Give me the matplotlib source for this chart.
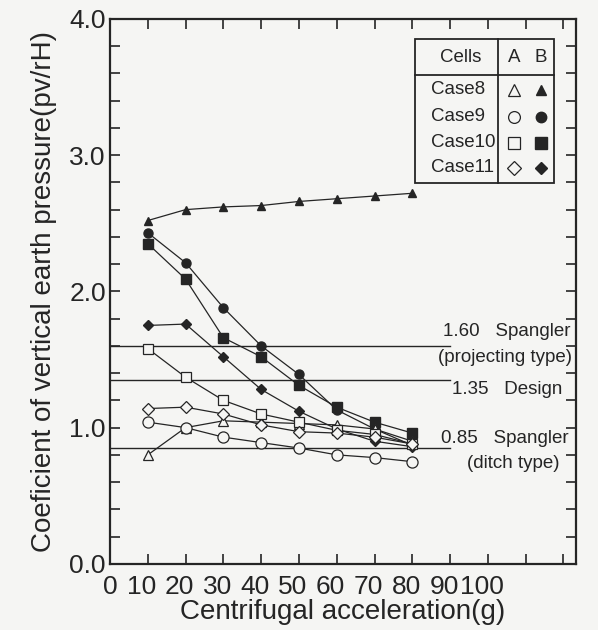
import matplotlib
matplotlib.use("Agg")
import matplotlib.pyplot as plt
import matplotlib.transforms as mtransforms
import numpy as np

plt.rcParams["font.family"] = ["Liberation Sans", "DejaVu Sans"]

# centrifugal acceleration (g)
accel = [10, 20, 30, 40, 50, 60, 70, 80]

# cell A (open markers) and cell B (filled markers) for each case
case8_a = [0.80, 1.00, 1.05, 1.04, 1.03, 1.02, 0.99, 0.90]
case8_b = [2.52, 2.60, 2.62, 2.63, 2.66, 2.68, 2.70, 2.72]
case9_a = [1.04, 1.00, 0.93, 0.89, 0.85, 0.80, 0.78, 0.75]
case9_b = [2.43, 2.21, 1.88, 1.60, 1.39, 1.13, 0.99, 0.87]
case10_a = [1.58, 1.37, 1.20, 1.10, 1.04, 0.98, 0.95, 0.88]
case10_b = [2.35, 2.09, 1.66, 1.52, 1.31, 1.15, 1.04, 0.96]
case11_a = [1.14, 1.15, 1.10, 1.02, 0.97, 0.96, 0.93, 0.88]
case11_b = [1.75, 1.76, 1.52, 1.28, 1.12, 0.99, 0.90, 0.86]

case_names = ["Case8", "Case9", "Case10", "Case11"]
case_markers = ["^", "o", "s", "D"]

# reference lines (Spangler projecting, design, Spangler ditch)
ref_values = [1.60, 1.35, 0.85]

x_ticks = list(range(0, 130, 10))
x_ticklabels = ["0", "10", "20", "30", "40", "50", "60", "70", "80", "90", "100", "", ""]
y_ticks = [0.0, 1.0, 2.0, 3.0, 4.0]
y_ticklabels = ["0.0", "1.0", "2.0", "3.0", "4.0"]

BG = "#f5f5f3"
INK = "#252525"
ms_open = {"^": 7.5, "o": 8, "s": 7.5, "D": 6.5}
ms_fill = {"^": 6, "o": 6.5, "s": 7, "D": 5}

fig = plt.figure(figsize=(5.98, 6.30), dpi=100, facecolor=BG)
ax = fig.add_axes([0.184, 0.105, 0.779, 0.865], facecolor=BG)

series_a = [case8_a, case9_a, case10_a, case11_a]
series_b = [case8_b, case9_b, case10_b, case11_b]

for mk, ya, yb in zip(case_markers, series_a, series_b):
    ax.plot(accel, yb, color=INK, lw=0.9, marker=mk, ms=ms_fill[mk],
            mfc=INK, mec=INK, zorder=3)
    ax.plot(accel, ya, color=INK, lw=0.9, marker=mk, ms=ms_open[mk],
            mfc=BG, mec=INK, mew=0.9, zorder=4)

for v in ref_values:
    ax.plot([0, 90], [v, v], color=INK, lw=1.0, zorder=2)

ts = 13.5
ax.text(121.8, 1.60 + 0.045, "1.60   Spangler", ha="right", va="bottom", fontsize=ts, color=INK)
ax.text(122.2, 1.60 - 0.02, "(projecting type)", ha="right", va="top", fontsize=ts, color=INK)
ax.text(119.8, 1.35 - 0.01, "1.35   Design", ha="right", va="top", fontsize=ts, color=INK)
ax.text(121.5, 0.85 + 0.01, "0.85   Spangler", ha="right", va="bottom", fontsize=ts, color=INK)
ax.text(119.0, 0.85 - 0.05, "(ditch type)", ha="right", va="top", fontsize=ts, color=INK)

ax.set_xlim(0, 123.3)
ax.set_ylim(0, 4.0)
ax.set_xticks(x_ticks)
ax.set_xticklabels(x_ticklabels, fontsize=19, color=INK)
ax.set_yticks(y_ticks)
ax.set_yticklabels(y_ticklabels, fontsize=19, color=INK)
ax.set_yticks(np.arange(0, 4.01, 0.2), minor=True)
ax.tick_params(which="both", direction="in", length=7, width=1.2, color=INK,
               top=True, right=True)
ax.tick_params(axis="x", pad=8)
ax.tick_params(axis="y", pad=3)

# the printed tick labels sit a little left of their ticks
shift = mtransforms.ScaledTranslation(-6 / 100, 0, fig.dpi_scale_trans)
for lab in ax.get_xticklabels()[1:]:
    lab.set_transform(lab.get_transform() + shift)

for sp in ax.spines.values():
    sp.set_linewidth(1.6)
    sp.set_color(INK)

ax.set_xlabel("Centrifugal acceleration(g)", fontsize=20, color=INK, labelpad=0)
ax.set_ylabel("Coeficient of vertical earth pressure(pv/rH)", fontsize=20, color=INK, labelpad=9)

# legend table in the upper right
tr = ax.transAxes
x0, x1, xdiv = 0.6545, 0.9528, 0.8326
y0, y1, ysep = 0.699, 0.9633, 0.8972
ax.add_patch(plt.Rectangle((x0, y0), x1 - x0, y1 - y0, transform=tr,
                           fill=False, ec=INK, lw=1.3, zorder=5))
ax.plot([x0, x1], [ysep, ysep], transform=tr, color=INK, lw=1.3, zorder=5)
ax.plot([xdiv, xdiv], [y0, y1], transform=tr, color=INK, lw=1.3, zorder=5)
ax.text(0.7532, 0.929, "Cells", transform=tr, ha="center", va="center", fontsize=ts, color=INK)
ax.text(0.867, 0.929, "A", transform=tr, ha="center", va="center", fontsize=ts, color=INK)
ax.text(0.925, 0.929, "B", transform=tr, ha="center", va="center", fontsize=ts, color=INK)
row_y = [0.8697, 0.8202, 0.7725, 0.7266]
for name, mk, ry in zip(case_names, case_markers, row_y):
    ax.text(0.689, ry, name, transform=tr, ha="left", va="center", fontsize=ts, color=INK)
    ax.plot([0.867], [ry], transform=tr, marker=mk, ms=ms_open[mk] + 0.5,
            mfc="none", mec=INK, mew=0.9, ls="none", zorder=6)
    ax.plot([0.925], [ry], transform=tr, marker=mk, ms=ms_fill[mk] + 1,
            mfc=INK, mec=INK, ls="none", zorder=6)

fig.savefig("out.png", dpi=100, facecolor=BG)
